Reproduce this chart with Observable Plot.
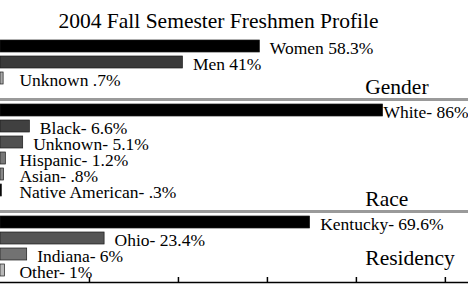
<!DOCTYPE html>
<html>
<head>
<meta charset="utf-8">
<script src="https://cdn.jsdelivr.net/npm/d3@7"></script>
<script src="https://cdn.jsdelivr.net/npm/@observablehq/plot@0.6"></script>
<style>
  html, body { margin: 0; padding: 0; background: #fff; }
  svg { display: block; }
  svg text { font-family: 'Liberation Serif', 'Times New Roman', serif !important; }
</style>
</head>
<body>
<div id="chart"></div>
<script>
const title = "2004 Fall Semester Freshmen Profile";
const sections = ["Gender", "Race", "Residency"];

const genderCats = ["Women", "Men", "Unknown"];
const genderValues = [58.3, 41, 0.7];
const genderLabels = ["Women 58.3%", "Men 41%", "Unknown .7%"];

const raceCats = ["White", "Black", "Unknown", "Hispanic", "Asian", "Native American"];
const raceValues = [86, 6.6, 5.1, 1.2, 0.8, 0.3];
const raceLabels = ["White- 86%", "Black- 6.6%", "Unknown- 5.1%", "Hispanic- 1.2%", "Asian- .8%", "Native American- .3%"];

const resCats = ["Kentucky", "Ohio", "Indiana", "Other"];
const resValues = [69.6, 23.4, 6, 1];
const resLabels = ["Kentucky- 69.6%", "Ohio- 23.4%", "Indiana- 6%", "Other- 1%"];

const xTicks = [20, 40, 60, 80, 100];

// styles (kept apart from data)
const genderFills = ["#000000", "#3a3a3a", "#a8a8a8"];
const raceFills = ["#000000", "#404040", "#505050", "#787878", "#888888", "#000000"];
const resFills = ["#000000", "#555555", "#727272", "#b8b8b8"];

function build(section, cats, values, labels) {
  return cats.map((c, i) => ({section, cat: c, key: section + ":" + c, value: values[i], label: labels[i]}));
}
const rows = [
  ...build(sections[0], genderCats, genderValues, genderLabels),
  ...build(sections[1], raceCats, raceValues, raceLabels),
  ...build(sections[2], resCats, resValues, resLabels)
];
const gapGender = "gap:" + sections[0];
const gapRace = "gap:" + sections[1];
const yDomain = [
  ...rows.filter(d => d.section === sections[0]).map(d => d.key), gapGender,
  ...rows.filter(d => d.section === sections[1]).map(d => d.key), gapRace,
  ...rows.filter(d => d.section === sections[2]).map(d => d.key)
];
const fills = [...genderFills, ...raceFills, ...resFills];

const font = "'Liberation Serif', 'Times New Roman', serif";

const chart = Plot.plot({
  width: 468,
  height: 284,
  marginLeft: 0,
  marginRight: 0,
  marginTop: 34,
  marginBottom: 2,
  style: {fontFamily: font, background: "#fff", overflow: "visible"},
  x: {domain: [0, 105.2], axis: null},
  y: {domain: yDomain, paddingInner: 0.24, paddingOuter: 0.12, axis: null},
  color: {type: "ordinal", domain: rows.map(d => d.key), range: fills},
  marks: [
    Plot.ruleY([gapGender, gapRace], {y: d => d, stroke: "#9a9a9a", strokeWidth: 3, dy: 5}),
    Plot.barX(rows, {x: "value", y: "key", fill: "key", stroke: "#1a1a1a", strokeWidth: 0.7}),
    Plot.text(rows.filter(d => d.value < 80), {
      x: d => Math.max(d.value, 2), y: "key", text: "label", fontFamily: font,
      textAnchor: "start", dx: 10, dy: 2, fontSize: 17.5, fill: "#000"
    }),
    Plot.text(rows.filter(d => d.value >= 80), {
      y: "key", text: "label", frameAnchor: "right", fontFamily: font,
      textAnchor: "end", dx: 0, dy: 2, fontSize: 17.5, fill: "#000"
    }),
    Plot.text([sections[0], sections[1]], {
      x: () => 82, y: (d, i) => [gapGender, gapRace][i], text: d => d, fontFamily: font,
      textAnchor: "start", dy: -7, fontSize: 21.5, fill: "#000"
    }),
    Plot.text([sections[2]], {
      x: () => 82, frameAnchor: "bottom", text: d => d, fontFamily: font,
      textAnchor: "start", dy: -18, fontSize: 21.5, fill: "#000"
    }),
    Plot.text([title], {
      text: d => d, frameAnchor: "top", dx: -16, dy: -22, fontSize: 21.5, fill: "#000", fontFamily: font
    }),
    Plot.frame({anchor: "bottom", stroke: "#000", strokeWidth: 1.5}),
    Plot.axisX({ticks: xTicks, tickSize: -5, tickFormat: () => "", label: null, stroke: "#000", strokeWidth: 1.5, anchor: "bottom"})
  ]
});
document.getElementById("chart").appendChild(chart);
</script>
</body>
</html>
